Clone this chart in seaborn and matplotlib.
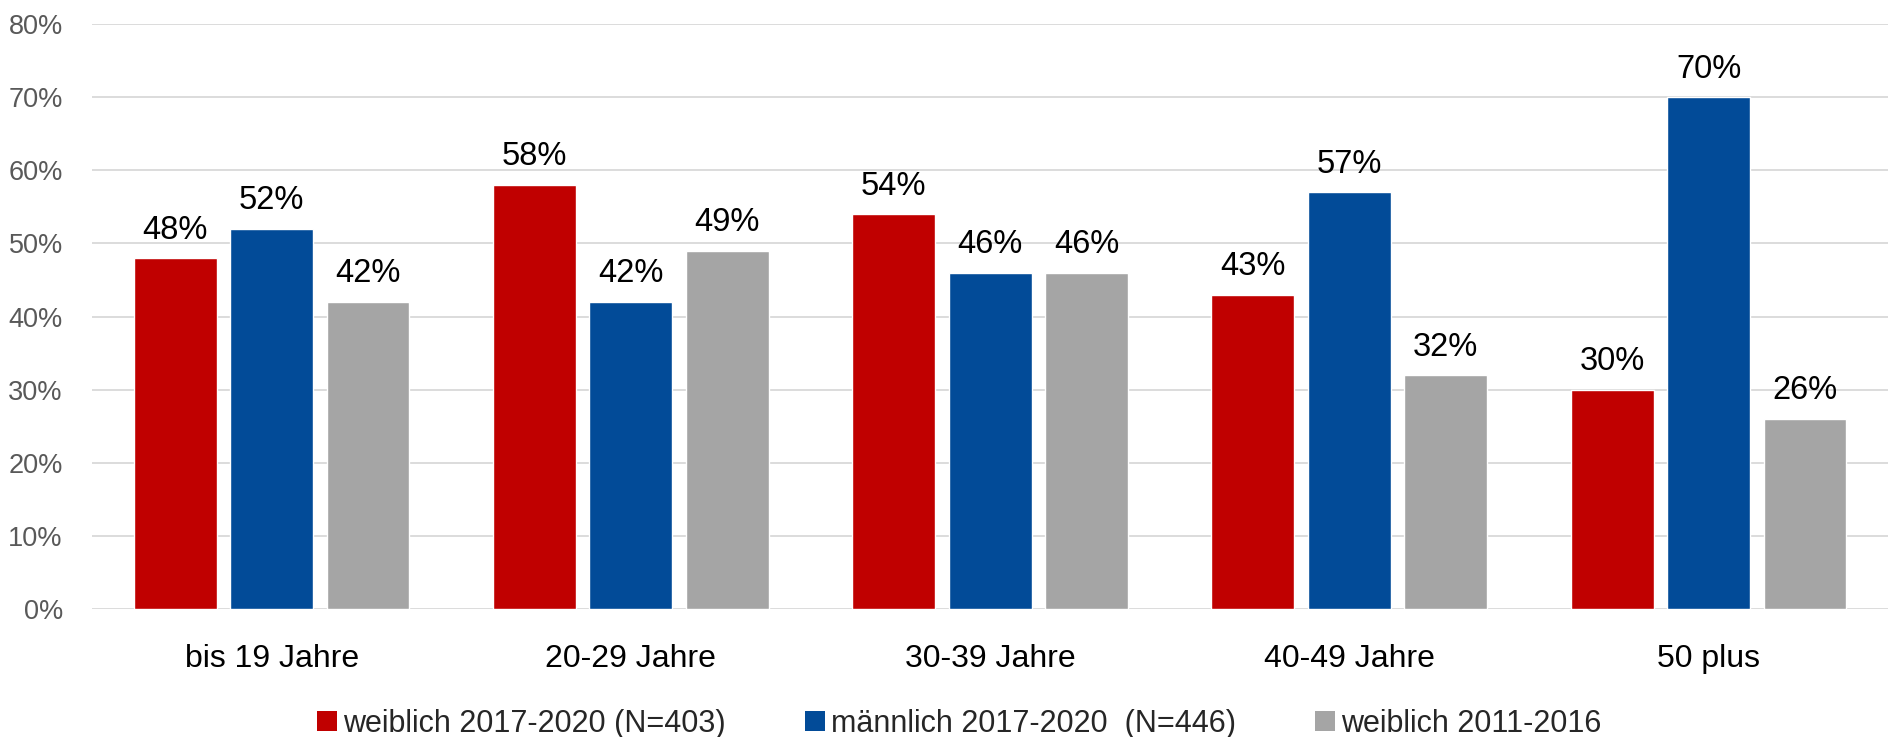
import pandas as pd
import matplotlib.pyplot as plt
import seaborn as sns
from matplotlib.patches import Patch
from matplotlib.ticker import FuncFormatter

# Data (percent)
age_groups = ["bis 19 Jahre", "20-29 Jahre", "30-39 Jahre", "40-49 Jahre", "50 plus"]
series_names = ["weiblich 2017-2020 (N=403)", "männlich 2017-2020  (N=446)", "weiblich 2011-2016"]
weiblich_2017 = [48, 58, 54, 43, 30]
maennlich_2017 = [52, 42, 46, 57, 70]
weiblich_2011 = [42, 49, 46, 32, 26]
colors = ["#C00000", "#024B98", "#A5A5A5"]

rows = []
for name, values in zip(series_names, [weiblich_2017, maennlich_2017, weiblich_2011]):
    for group, v in zip(age_groups, values):
        rows.append({"Altersgruppe": group, "Gruppe": name, "Anteil": v})
df = pd.DataFrame(rows)

sns.set_theme(style="white")
plt.rcParams["font.family"] = ["Liberation Sans", "DejaVu Sans"]

fig = plt.figure(figsize=(18.92, 7.37), dpi=100)
ax = fig.add_axes([0.0486, 0.1737, 0.9494, 0.7937])

sns.barplot(data=df, x="Altersgruppe", y="Anteil", hue="Gruppe",
            order=age_groups, hue_order=series_names, palette=colors,
            width=0.805, gap=0.14, saturation=1, ax=ax, legend=False)

# percentage labels above the bars
for container in ax.containers:
    ax.bar_label(container, labels=[f"{int(v)}%" for v in container.datavalues],
                 padding=9, fontsize=23.5, color="black")

ax.set_ylim(0, 80)
ax.set_xlim(-0.5, 4.5)
ax.set_yticks(range(0, 81, 10))
ax.yaxis.set_major_formatter(FuncFormatter(lambda v, p: f"{int(v)}%"))
ax.grid(axis="y", color="#D9D9D9", linewidth=1.3)
ax.set_axisbelow(True)
for s in ax.spines.values():
    s.set_visible(False)
ax.tick_params(axis="y", length=0, pad=21, labelsize=19.5, labelcolor="#595959")
ax.tick_params(axis="x", length=0, pad=25, labelsize=23, labelcolor="black")
ax.set_xlabel("")
ax.set_ylabel("")

handles = [Patch(facecolor=c, edgecolor="none") for c in colors]
fig.legend(handles, series_names, loc="lower center", bbox_to_anchor=(0.507, -0.04),
           ncol=3, frameon=False, fontsize=22, handlelength=0.65, handleheight=0.65,
           handletextpad=0.2, columnspacing=2.6)

fig.savefig("out.png", dpi=100)
